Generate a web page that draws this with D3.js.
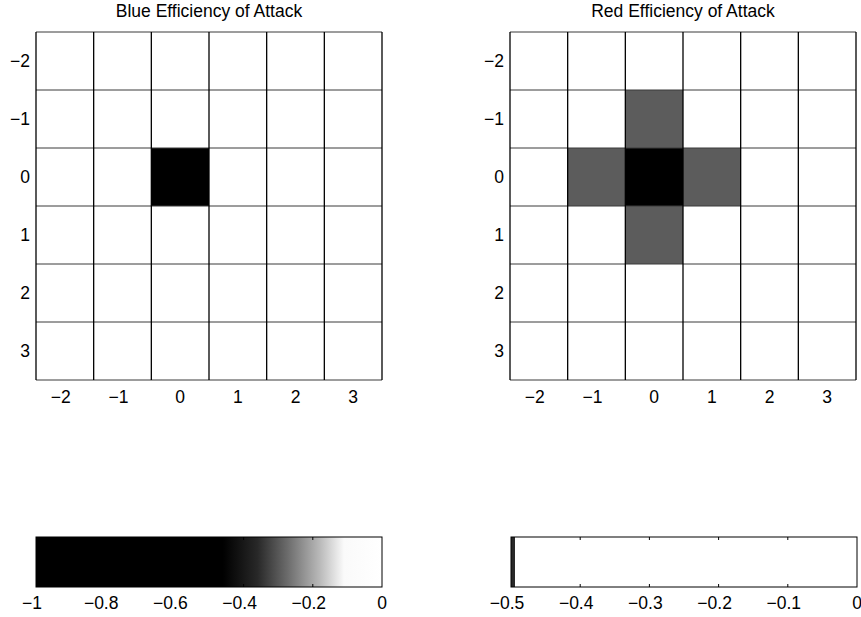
<!DOCTYPE html>
<html>
<head>
<meta charset="utf-8">
<script src="https://cdn.jsdelivr.net/npm/d3@7"></script>
<style>
  body { margin: 0; background: #fff; }
  svg { display: block; font-family: "Liberation Sans", Arial, sans-serif; }
</style>
</head>
<body>
<svg id="chart" width="861" height="617"></svg>
<script>
// ---- data ----
const xCats = [-2, -1, 0, 1, 2, 3];
const yCats = [-2, -1, 0, 1, 2, 3];
const titles = ["Blue Efficiency of Attack", "Red Efficiency of Attack"];
// rows follow yCats, columns follow xCats
const blueValues = [
  [0, 0, 0, 0, 0, 0],
  [0, 0, 0, 0, 0, 0],
  [0, 0, -1, 0, 0, 0],
  [0, 0, 0, 0, 0, 0],
  [0, 0, 0, 0, 0, 0],
  [0, 0, 0, 0, 0, 0]
];
const redValues = [
  [0, 0, 0, 0, 0, 0],
  [0, 0, -0.3, 0, 0, 0],
  [0, -0.3, -0.5, -0.3, 0, 0],
  [0, 0, -0.3, 0, 0, 0],
  [0, 0, 0, 0, 0, 0],
  [0, 0, 0, 0, 0, 0]
];
const blueDomain = [-1, 0];
const redDomain = [-0.5, 0];
const blueCbTicks = [-1, -0.8, -0.6, -0.4, -0.2, 0];
const redCbTicks = [-0.5, -0.4, -0.3, -0.2, -0.1, 0];
// colourbar appearance (value, gray level) as seen in the picture
const blueCbStops = [[-1, 0], [-0.46, 0], [-0.36, 40], [-0.27, 110], [-0.18, 185], [-0.11, 250], [0, 255]];
const redCbStops = [[-0.5, 40], [-0.494, 40], [-0.4935, 255], [0, 255]];

// ---- layout ----
const svg = d3.select("#chart");
const panels = [
  { title: titles[0], values: blueValues, domain: blueDomain, cbTicks: blueCbTicks, cbStops: blueCbStops,
    x0: 36, x1: 382, cbx0: 36, cbx1: 382 },
  { title: titles[1], values: redValues, domain: redDomain, cbTicks: redCbTicks, cbStops: redCbStops,
    x0: 510, x1: 856, cbx0: 511, cbx1: 857 }
];
const y0 = 32, y1 = 380;
const cbY0 = 537, cbY1 = 587;
const FS = 17.5;
const fmt = v => (v < 0 ? "\u2212" : "") + String(Math.abs(v));

panels.forEach((p, pi) => {
  const x = d3.scaleBand().domain(xCats).range([p.x0, p.x1]);
  const y = d3.scaleBand().domain(yCats).range([y0, y1]);
  const color = d3.scaleLinear().domain(p.domain).range(["#000000", "#ffffff"]).clamp(true);
  const grayFor = v => (pi === 1 && v > p.domain[0] && v < p.domain[1]) ? "#5c5c5c" : color(v);

  const g = svg.append("g");
  const cells = [];
  p.values.forEach((row, ri) => row.forEach((v, ci) => cells.push({ xv: xCats[ci], yv: yCats[ri], v })));

  g.selectAll("rect.cell").data(cells).join("rect")
    .attr("class", "cell")
    .attr("x", d => x(d.xv)).attr("y", d => y(d.yv))
    .attr("width", x.bandwidth()).attr("height", y.bandwidth())
    .attr("fill", d => grayFor(d.v));

  // horizontal grid lines (lighter)
  const hb = yCats.map(c => y(c)).concat([y1]);
  g.selectAll("line.h").data(hb).join("line")
    .attr("x1", p.x0).attr("x2", p.x1)
    .attr("y1", d => d).attr("y2", d => d)
    .attr("stroke", "#3a3a3a").attr("stroke-width", 1);
  // vertical grid lines (darker)
  const vb = xCats.map(c => x(c)).concat([p.x1]);
  g.selectAll("line.v").data(vb).join("line")
    .attr("y1", y0).attr("y2", y1)
    .attr("x1", d => d).attr("x2", d => d)
    .attr("stroke", "#000").attr("stroke-width", 1.3);

  // tick labels
  g.selectAll("text.xt").data(xCats).join("text")
    .attr("x", d => x(d) + x.bandwidth() / 2 + (d < 0 ? -4 : 0))
    .attr("y", 403)
    .attr("text-anchor", "middle").style("font-size", FS + "px")
    .text(fmt);
  g.selectAll("text.yt").data(yCats).join("text")
    .attr("x", p.x0 - 6)
    .attr("y", d => y(d) + y.bandwidth() / 2 + 6)
    .attr("text-anchor", "end").style("font-size", FS + "px")
    .text(fmt);

  // title
  g.append("text")
    .attr("x", (p.x0 + p.x1) / 2).attr("y", 17)
    .attr("text-anchor", "middle").style("font-size", FS + "px")
    .text(p.title);

  // colourbar
  const cx = d3.scaleLinear().domain(p.domain).range([p.cbx0, p.cbx1]);
  const gradId = "grad" + pi;
  const grad = svg.append("defs").append("linearGradient").attr("id", gradId)
    .attr("gradientUnits", "userSpaceOnUse")
    .attr("x1", p.cbx0).attr("x2", p.cbx1).attr("y1", 0).attr("y2", 0);
  grad.selectAll("stop").data(p.cbStops).join("stop")
    .attr("offset", d => (cx(d[0]) - p.cbx0) / (p.cbx1 - p.cbx0))
    .attr("stop-color", d => d3.rgb(d[1], d[1], d[1]));
  g.append("rect")
    .attr("x", p.cbx0).attr("y", cbY0)
    .attr("width", p.cbx1 - p.cbx0).attr("height", cbY1 - cbY0)
    .attr("fill", `url(#${gradId})`)
    .attr("stroke", "#000").attr("stroke-width", 1);
  // inner tick marks
  const inner = p.cbTicks.slice(1, -1);
  g.selectAll("line.cbt").data(inner).join("line")
    .attr("x1", d => cx(d)).attr("x2", d => cx(d))
    .attr("y1", cbY0).attr("y2", cbY0 + 3)
    .attr("stroke", "#000");
  g.selectAll("line.cbb").data(inner).join("line")
    .attr("x1", d => cx(d)).attr("x2", d => cx(d))
    .attr("y1", cbY1 - 3).attr("y2", cbY1)
    .attr("stroke", "#000");
  g.selectAll("text.cbl").data(p.cbTicks).join("text")
    .attr("x", d => cx(d) + (d < 0 ? -4 : 0))
    .attr("y", 609)
    .attr("text-anchor", "middle").style("font-size", FS + "px")
    .text(fmt);
});
</script>
</body>
</html>
